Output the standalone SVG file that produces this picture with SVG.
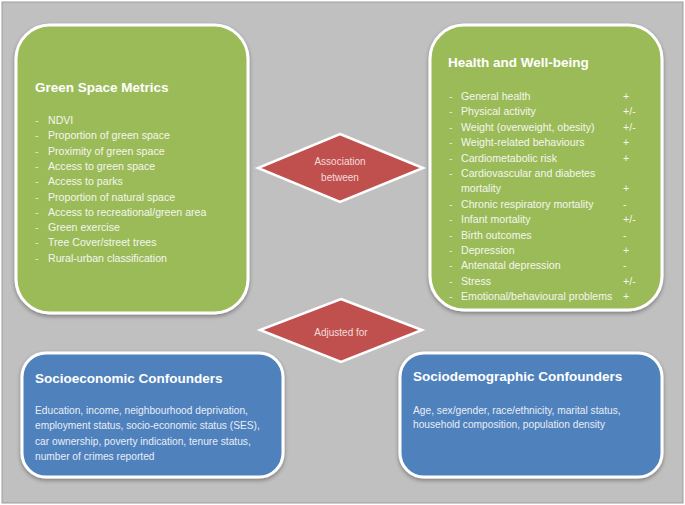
<svg xmlns="http://www.w3.org/2000/svg" width="685" height="505" viewBox="0 0 685 505">
<defs>
<filter id="sh" x="-10%" y="-10%" width="120%" height="125%">
<feGaussianBlur in="SourceAlpha" stdDeviation="2"/>
<feOffset dx="0" dy="2" result="b"/>
<feComponentTransfer><feFuncA type="linear" slope="0.35"/></feComponentTransfer>
<feMerge><feMergeNode/><feMergeNode in="SourceGraphic"/></feMerge>
</filter>
</defs>
<style>
.green{fill:#9bbb59;stroke:#ffffff;stroke-width:3}
.blue{fill:#4f81bd;stroke:#ffffff;stroke-width:3}
.red{fill:#c0504d;stroke:#ffffff;stroke-width:2.5}
text{font-family:"Liberation Sans",Arial,sans-serif}
.title{font-size:13.5px;font-weight:bold;fill:#ffffff}
.item{font-size:10.6px;fill:#f3f6ee}
.dash{font-size:10.6px;fill:#e4ecd3}
.body{font-size:10.2px;fill:#e8eef6}
.dia{font-size:10px;fill:#f2dcdb;text-anchor:middle}
</style>
<rect x="2" y="2" width="681" height="501" fill="#c0c0c0" stroke="#9d9d9d" stroke-width="1"/>

<g id="green-space">
<rect class="green" x="16" y="25" width="232" height="288" rx="34" filter="url(#sh)"/>
<text class="title" x="35" y="92">Green Space Metrics</text>
<g class="dash">
<text x="35" y="124">-</text><text x="35" y="139.3">-</text><text x="35" y="154.6">-</text><text x="35" y="169.9">-</text><text x="35" y="185.2">-</text><text x="35" y="200.5">-</text><text x="35" y="215.8">-</text><text x="35" y="231.1">-</text><text x="35" y="246.4">-</text><text x="35" y="261.7">-</text>
</g>
<g class="item">
<text x="48" y="124">NDVI</text>
<text x="48" y="139.3">Proportion  of green space</text>
<text x="48" y="154.6">Proximity of green space</text>
<text x="48" y="169.9">Access to green space</text>
<text x="48" y="185.2">Access to parks</text>
<text x="48" y="200.5">Proportion  of natural space</text>
<text x="48" y="215.8">Access to recreational/green area</text>
<text x="48" y="231.1">Green exercise</text>
<text x="48" y="246.4">Tree Cover/street trees</text>
<text x="48" y="261.7">Rural-urban classification</text>
</g>
</g>

<g id="health">
<rect class="green" x="430" y="25" width="232" height="285" rx="34" filter="url(#sh)"/>
<text class="title" x="448" y="67">Health and Well-being</text>
<g class="dash">
<text x="449" y="100">-</text><text x="449" y="115.4">-</text><text x="449" y="130.8">-</text><text x="449" y="146.2">-</text><text x="449" y="161.6">-</text><text x="449" y="177">-</text><text x="449" y="207.8">-</text><text x="449" y="223.2">-</text><text x="449" y="238.6">-</text><text x="449" y="254">-</text><text x="449" y="269.4">-</text><text x="449" y="284.8">-</text><text x="449" y="300.2">-</text>
</g>
<g class="item">
<text x="461" y="100">General health</text>
<text x="461" y="115.4">Physical activity</text>
<text x="461" y="130.8">Weight (overweight, obesity)</text>
<text x="461" y="146.2">Weight-related behaviours</text>
<text x="461" y="161.6">Cardiometabolic risk</text>
<text x="461" y="177">Cardiovascular and diabetes</text>
<text x="461" y="192.4">mortality</text>
<text x="461" y="207.8">Chronic respiratory mortality</text>
<text x="461" y="223.2">Infant mortality</text>
<text x="461" y="238.6">Birth outcomes</text>
<text x="461" y="254">Depression</text>
<text x="461" y="269.4">Antenatal depression</text>
<text x="461" y="284.8">Stress</text>
<text x="461" y="300.2">Emotional/behavioural problems</text>
</g>
<g class="item">
<text x="623" y="100">+</text>
<text x="623" y="115.4">+/-</text>
<text x="623" y="130.8">+/-</text>
<text x="623" y="146.2">+</text>
<text x="623" y="161.6">+</text>
<text x="623" y="192.4">+</text>
<text x="623" y="207.8">-</text>
<text x="623" y="223.2">+/-</text>
<text x="623" y="238.6">-</text>
<text x="623" y="254">+</text>
<text x="623" y="269.4">-</text>
<text x="623" y="284.8">+/-</text>
<text x="623" y="300.2">+</text>
</g>
</g>

<g id="association">
<polygon class="red" points="340,134 423,168 340,202 258,168"/>
<text class="dia" x="340" y="164.5">Association</text>
<text class="dia" x="340" y="180.5">between</text>
</g>

<g id="adjusted">
<polygon class="red" points="341,299 422,330 341,362 260,330"/>
<text class="dia" x="341" y="336">Adjusted for</text>
</g>

<g id="socioeconomic">
<rect class="blue" x="22" y="353" width="261" height="124" rx="24" filter="url(#sh)"/>
<text class="title" x="35" y="383">Socioeconomic  Confounders</text>
<g class="body">
<text x="35" y="414">Education, income, neighbourhood  deprivation,</text>
<text x="35" y="429">employment  status,  socio-economic status (SES),</text>
<text x="35" y="444.5">car ownership, poverty  indication, tenure status,</text>
<text x="35" y="460">number  of crimes reported</text>
</g>
</g>

<g id="sociodemographic">
<rect class="blue" x="400" y="353" width="262" height="124" rx="24" filter="url(#sh)"/>
<text class="title" x="413" y="381">Sociodemographic  Confounders</text>
<g class="body">
<text x="413" y="414">Age, sex/gender, race/ethnicity, marital status,</text>
<text x="413" y="428">household  composition,  population  density</text>
</g>
</g>

<g id="connectors"></g>
</svg>
